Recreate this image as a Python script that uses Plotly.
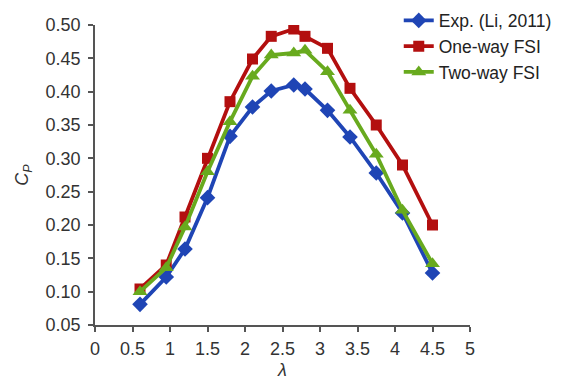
import plotly.graph_objects as go

lam = [0.6, 0.95, 1.2, 1.5, 1.8, 2.1, 2.35, 2.65, 2.8, 3.1, 3.4, 3.75, 4.1, 4.5]
cp_exp = [0.081, 0.122, 0.164, 0.241, 0.333, 0.377, 0.401, 0.410, 0.404, 0.372, 0.332, 0.278, 0.218, 0.128]
cp_one = [0.104, 0.140, 0.212, 0.300, 0.385, 0.449, 0.483, 0.494, 0.483, 0.465, 0.405, 0.350, 0.290, 0.200]
cp_two = [0.100, 0.136, 0.197, 0.280, 0.355, 0.423, 0.455, 0.458, 0.462, 0.430, 0.372, 0.306, 0.222, 0.142]

x_ticks = [0, 0.5, 1, 1.5, 2, 2.5, 3, 3.5, 4, 4.5, 5]
x_labels = ["0", "0.5", "1", "1.5", "2", "2.5", "3", "3.5", "4", "4.5", "5"]
y_ticks = [0.05, 0.10, 0.15, 0.20, 0.25, 0.30, 0.35, 0.40, 0.45, 0.50]
y_labels = ["0.05", "0.10", "0.15", "0.20", "0.25", "0.30", "0.35", "0.40", "0.45", "0.50"]

FONT = "Liberation Sans, Arial, sans-serif"
fig = go.Figure()
fig.add_trace(go.Scatter(x=lam, y=cp_exp, name="Exp. (Li, 2011)", mode="lines+markers",
                         line=dict(color="#1f45b5", width=3.8),
                         marker=dict(symbol="diamond", size=12, color="#1f45b5")))
fig.add_trace(go.Scatter(x=lam, y=cp_one, name="One-way FSI", mode="lines+markers",
                         line=dict(color="#b30f0f", width=3.8),
                         marker=dict(symbol="square", size=11, color="#b30f0f")))
fig.add_trace(go.Scatter(x=lam, y=cp_two, name="Two-way FSI", mode="lines+markers",
                         line=dict(color="#68aa1e", width=3.8),
                         marker=dict(symbol="triangle-up", size=13, color="#68aa1e")))

fig.update_layout(
    width=565, height=380,
    margin=dict(l=95, r=95, t=25, b=55, autoexpand=False),
    paper_bgcolor="white", plot_bgcolor="white",
    font=dict(family=FONT, size=18, color="#333333"),
    showlegend=True,
    legend=dict(x=0.81, y=1.075, xanchor="left", yanchor="top",
                font=dict(size=17.5, color="#222222"),
                bgcolor="rgba(0,0,0,0)", tracegroupgap=0, itemwidth=30),
    xaxis=dict(range=[0, 5], tickvals=x_ticks, ticktext=x_labels, automargin=False,
               showgrid=False, zeroline=False, showline=True, linecolor="#555555", linewidth=1.5,
               ticks="outside", ticklen=5, tickcolor="#555555", tickwidth=1.5,
               ticklabelstandoff=2,
               title=dict(text="<i>λ</i>", standoff=12, font=dict(size=18))),
    yaxis=dict(range=[0.05, 0.50], tickvals=y_ticks, ticktext=y_labels, automargin=False,
               showgrid=False, zeroline=False, showline=True, linecolor="#555555", linewidth=1.5,
               ticks="outside", ticklen=5, tickcolor="#555555", tickwidth=1.5,
               ticklabelstandoff=4,
               title=dict(text="<i>C<sub>P</sub></i>", standoff=12, font=dict(size=18))),
)

fig.write_html("out.html")
